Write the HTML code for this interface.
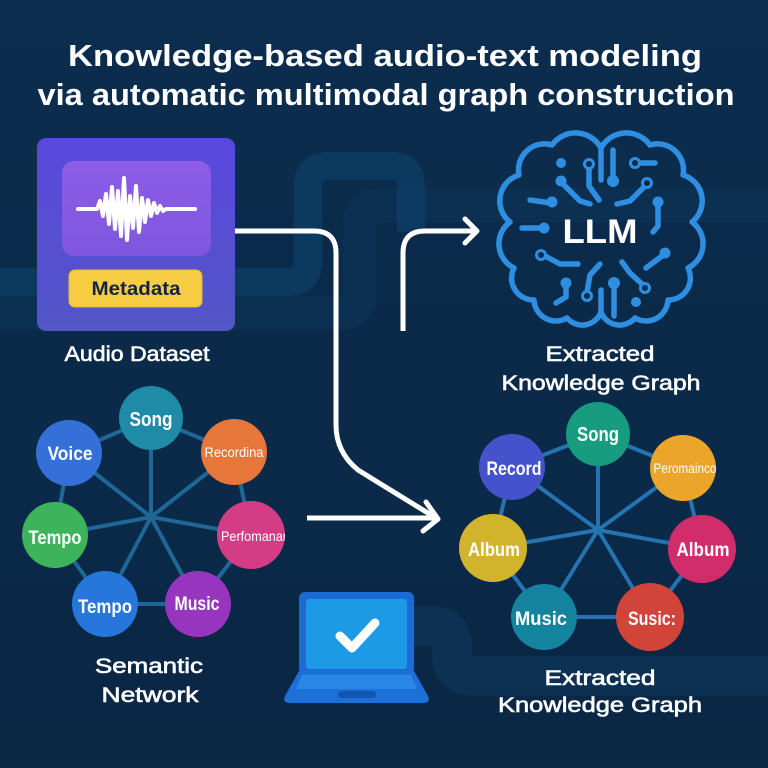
<!DOCTYPE html>
<html>
<head>
<meta charset="utf-8">
<style>
html,body{margin:0;padding:0;background:#0b2a49;}
svg{display:block;}
text{font-family:"Liberation Sans","DejaVu Sans",sans-serif;}
</style>
</head>
<body>
<svg width="768" height="768" viewBox="0 0 768 768" xmlns="http://www.w3.org/2000/svg">
  <defs>
    <linearGradient id="bg" x1="0" y1="0" x2="0" y2="1">
      <stop offset="0" stop-color="#0c2d4f"/>
      <stop offset="1" stop-color="#0a2744"/>
    </linearGradient>
    <linearGradient id="box" x1="0" y1="0" x2="0" y2="1">
      <stop offset="0" stop-color="#5b47dd"/>
      <stop offset="1" stop-color="#5256c6"/>
    </linearGradient>
    <linearGradient id="panel" x1="0" y1="0" x2="0" y2="1">
      <stop offset="0" stop-color="#8d5ce8"/>
      <stop offset="1" stop-color="#8056de"/>
    </linearGradient>
    <clipPath id="cPerf"><circle cx="251" cy="535" r="34"/></clipPath>
    <clipPath id="cPero"><circle cx="683" cy="468" r="33"/></clipPath>
  </defs>

  <rect width="768" height="768" fill="url(#bg)"/>

  <!-- background bands -->
  <path d="M0,313 H338 Q360,313 360,291 V225 Q360,205 382,205 H768" fill="none" stroke="#0d3457" stroke-width="34" opacity="0.6"/>
  <path d="M0,282 H288 Q308,282 308,262 V186 Q308,166 328,166 H392 Q411,166 411,186 V232" fill="none" stroke="#0f4671" stroke-width="28" opacity="0.55"/>
  <path d="M414,626 H433 Q452,626 452,646 V655 Q452,676 474,676 H768" fill="none" stroke="#0e3a5f" stroke-width="40" opacity="0.5"/>

  <!-- title -->
  <text x="385" y="66" font-size="31" font-weight="bold" fill="#ffffff" text-anchor="middle" textLength="634" lengthAdjust="spacingAndGlyphs">Knowledge-based audio-text modeling</text>
  <text x="386" y="105" font-size="31" font-weight="bold" fill="#ffffff" text-anchor="middle" textLength="697" lengthAdjust="spacingAndGlyphs">via automatic multimodal graph construction</text>

  <!-- audio dataset box -->
  <rect x="37" y="138" width="198" height="193" rx="9" fill="url(#box)"/>
  <rect x="62" y="161" width="149" height="95" rx="12" fill="url(#panel)"/>
  <polyline points="78,209 97,209 100,201 103,216 106,194 109,224 112,187 115,229 118,191 121,236 124,178 127,240 130,196 133,228 136,186 139,232 142,198 145,222 148,200 151,216 154,203 157,213 160,206 163,211 166,209 195,209" fill="none" stroke="#ffffff" stroke-width="4" stroke-linejoin="round" stroke-linecap="round"/>
  <rect x="69" y="270" width="133" height="37" rx="6" fill="#f6cd43" stroke="#e5b934" stroke-width="1"/>
  <text x="136" y="295" font-size="19" font-weight="bold" fill="#12234a" text-anchor="middle" textLength="89" lengthAdjust="spacingAndGlyphs">Metadata</text>
  <text x="137" y="361" font-size="21" fill="#ffffff" stroke="#ffffff" stroke-width="0.6" text-anchor="middle" textLength="145" lengthAdjust="spacingAndGlyphs">Audio Dataset</text>

  <!-- connectors -->
  <g fill="none" stroke="#ffffff" stroke-width="5">
    <path d="M235,231 H314 Q336,231 336,253 V425 Q336,452 358,470 L436,518"/>
    <path d="M307,518 H436"/>
    <path d="M403,331 V253 Q403,231 425,231 H474"/>
  </g>
  <g fill="none" stroke="#ffffff" stroke-width="5" stroke-linecap="round" stroke-linejoin="round">
    <polyline points="426,502 438,519 423,531"/>
    <polyline points="465,219 477,231 465,243"/>
  </g>

  <!-- brain -->
  <g fill="none" stroke="#2e8fe2" stroke-width="5.5" stroke-linejoin="round" stroke-linecap="round">
    <path d="M601,148 A29,29 0 0 1 650,145 A26,26 0 0 1 683,175 A27,27 0 0 1 692,222 A27,27 0 0 1 688,268 A22,22 0 0 1 668,300 A22,22 0 0 1 635,318 A20,20 0 0 1 601,312 A20,20 0 0 1 567,318 A22,22 0 0 1 534,300 A22,22 0 0 1 514,268 A27,27 0 0 1 510,222 A27,27 0 0 1 519,175 A26,26 0 0 1 552,145 A29,29 0 0 1 601,148 Z"/>
    <path d="M601,150 V180"/>
    <path d="M601,312 V290"/>
    <path d="M589,168 V186 L599,200"/>
    <path d="M613,150 V176"/>
    <path d="M639,163 H655"/>
    <path d="M563,184 L580,201 L590,204"/>
    <path d="M645,186 L630,201 L617,204"/>
    <path d="M530,200 L551,203"/>
    <path d="M658,207 V226 L653,232"/>
    <path d="M522,228 H543"/>
    <path d="M545,256 L560,264 H578"/>
    <path d="M662,256 L646,268"/>
    <path d="M566,287 V297 L556,303"/>
    <path d="M587,292 L590,275 L600,264"/>
    <path d="M614,287 V316"/>
    <path d="M642,284 L630,273 L622,262"/>
  </g>
  <g fill="#2e8fe2">
    <circle cx="561" cy="163" r="5"/>
    <circle cx="613" cy="181" r="6"/>
    <circle cx="561" cy="181" r="5.5"/>
    <circle cx="552" cy="202" r="5.5"/>
    <circle cx="658" cy="202" r="5.5"/>
    <circle cx="544" cy="228" r="5.5"/>
    <circle cx="665" cy="253" r="5.5"/>
    <circle cx="566" cy="283" r="5.5"/>
    <circle cx="614" cy="283" r="6"/>
    <circle cx="636" cy="302" r="5"/>
  </g>
  <g fill="#0b2b4a" stroke="#2e8fe2" stroke-width="3">
    <circle cx="589" cy="164" r="4.5"/>
    <circle cx="635" cy="163" r="4.5"/>
    <circle cx="647" cy="183" r="4.5"/>
    <circle cx="541" cy="255" r="4.5"/>
    <circle cx="587" cy="296" r="4.5"/>
    <circle cx="645" cy="288" r="4.5"/>
  </g>
  <text x="600" y="243" font-size="34" font-weight="bold" fill="#ffffff" text-anchor="middle" textLength="75" lengthAdjust="spacingAndGlyphs">LLM</text>

  <text x="600" y="361" font-size="21" fill="#ffffff" stroke="#ffffff" stroke-width="0.6" text-anchor="middle" textLength="109" lengthAdjust="spacingAndGlyphs">Extracted</text>
  <text x="601" y="390" font-size="21" fill="#ffffff" stroke="#ffffff" stroke-width="0.6" text-anchor="middle" textLength="199" lengthAdjust="spacingAndGlyphs">Knowledge Graph</text>

  <!-- left semantic network -->
  <g stroke="#1e6797" stroke-width="4" fill="none">
    <line x1="151" y1="517" x2="151" y2="418"/>
    <line x1="151" y1="517" x2="69" y2="453"/>
    <line x1="151" y1="517" x2="234" y2="452"/>
    <line x1="151" y1="517" x2="55" y2="535"/>
    <line x1="151" y1="517" x2="251" y2="535"/>
    <line x1="151" y1="517" x2="105" y2="604"/>
    <line x1="151" y1="517" x2="198" y2="604"/>
    <line x1="151" y1="418" x2="69" y2="453"/>
    <line x1="151" y1="418" x2="234" y2="452"/>
    <line x1="69" y1="453" x2="55" y2="535"/>
    <line x1="234" y1="452" x2="251" y2="535"/>
    <line x1="55" y1="535" x2="105" y2="604"/>
    <line x1="251" y1="535" x2="198" y2="604"/>
    <line x1="105" y1="604" x2="198" y2="604"/>
  </g>
  <circle cx="151" cy="418" r="32" fill="#1f8ba7"/>
  <circle cx="69" cy="453" r="33" fill="#3470d7"/>
  <circle cx="234" cy="452" r="33" fill="#e6763a"/>
  <circle cx="55" cy="535" r="33" fill="#3db45c"/>
  <circle cx="251" cy="535" r="34" fill="#d43c86"/>
  <circle cx="105" cy="604" r="33" fill="#2676dc"/>
  <circle cx="198" cy="604" r="33" fill="#9835bf"/>
  <g fill="#ffffff" font-weight="bold" text-anchor="middle">
    <text x="151" y="426" font-size="20" textLength="43" lengthAdjust="spacingAndGlyphs">Song</text>
    <text x="70" y="460" font-size="19" textLength="45" lengthAdjust="spacingAndGlyphs">Voice</text>
    <text x="55" y="544" font-size="19" textLength="53" lengthAdjust="spacingAndGlyphs">Tempo</text>
    <text x="105" y="613" font-size="19" textLength="54" lengthAdjust="spacingAndGlyphs">Tempo</text>
    <text x="197" y="610" font-size="19" textLength="45" lengthAdjust="spacingAndGlyphs">Music</text>
  </g>
  <g fill="#ffffff" text-anchor="middle">
    <text x="234" y="457" font-size="14" textLength="59" lengthAdjust="spacingAndGlyphs">Recordina</text>
    <text x="254" y="541" font-size="14" textLength="66" lengthAdjust="spacingAndGlyphs" clip-path="url(#cPerf)">Perfomanar</text>
  </g>
  <text x="149" y="673" font-size="21" fill="#ffffff" stroke="#ffffff" stroke-width="0.6" text-anchor="middle" textLength="108" lengthAdjust="spacingAndGlyphs">Semantic</text>
  <text x="150" y="702" font-size="21" fill="#ffffff" stroke="#ffffff" stroke-width="0.6" text-anchor="middle" textLength="97" lengthAdjust="spacingAndGlyphs">Network</text>

  <!-- laptop -->
  <rect x="299" y="592" width="115" height="82" rx="6" fill="#1a6bd4"/>
  <rect x="306" y="599" width="101" height="70" rx="3" fill="#1c9ae5"/>
  <path d="M299,671 H414 L428,696 Q431,703 423,703 H290 Q282,703 285,696 Z" fill="#1d70d8"/>
  <path d="M302,675 H411 L417,689 H296 Z" fill="#2a87e7"/>
  <rect x="338" y="691" width="38" height="7" rx="3.5" fill="#1256b4"/>
  <polyline points="340,636 352,648 375,623" fill="none" stroke="#ffffff" stroke-width="9" stroke-linecap="round" stroke-linejoin="round"/>

  <!-- right knowledge graph -->
  <g stroke="#2374b0" stroke-width="4" fill="none">
    <line x1="598" y1="530" x2="598" y2="434"/>
    <line x1="598" y1="530" x2="512" y2="467"/>
    <line x1="598" y1="530" x2="683" y2="468"/>
    <line x1="598" y1="530" x2="493" y2="548"/>
    <line x1="598" y1="530" x2="702" y2="549"/>
    <line x1="598" y1="530" x2="544" y2="617"/>
    <line x1="598" y1="530" x2="650" y2="617"/>
    <line x1="598" y1="434" x2="512" y2="467"/>
    <line x1="598" y1="434" x2="683" y2="468"/>
    <line x1="512" y1="467" x2="493" y2="548"/>
    <line x1="683" y1="468" x2="702" y2="549"/>
    <line x1="493" y1="548" x2="544" y2="617"/>
    <line x1="702" y1="549" x2="650" y2="617"/>
    <line x1="544" y1="617" x2="650" y2="617"/>
  </g>
  <circle cx="598" cy="434" r="32" fill="#189c7f"/>
  <circle cx="512" cy="467" r="33" fill="#4453cb"/>
  <circle cx="683" cy="468" r="33" fill="#eba52a"/>
  <circle cx="493" cy="548" r="34" fill="#d2b42c"/>
  <circle cx="702" cy="549" r="34" fill="#d22d6b"/>
  <circle cx="544" cy="617" r="33" fill="#13839e"/>
  <circle cx="650" cy="617" r="34" fill="#d0443a"/>
  <g fill="#ffffff" font-weight="bold" text-anchor="middle">
    <text x="598" y="441" font-size="20" textLength="42" lengthAdjust="spacingAndGlyphs">Song</text>
    <text x="514" y="475" font-size="19" textLength="55" lengthAdjust="spacingAndGlyphs">Record</text>
    <text x="494" y="556" font-size="19" textLength="52" lengthAdjust="spacingAndGlyphs">Album</text>
    <text x="703" y="556" font-size="19" textLength="53" lengthAdjust="spacingAndGlyphs">Album</text>
    <text x="541" y="625" font-size="19" textLength="52" lengthAdjust="spacingAndGlyphs">Music</text>
    <text x="652" y="625" font-size="19" textLength="48" lengthAdjust="spacingAndGlyphs">Susic:</text>
  </g>
  <text x="685" y="473" font-size="13.5" fill="#ffffff" text-anchor="middle" textLength="63" lengthAdjust="spacingAndGlyphs" clip-path="url(#cPero)">Peromainco</text>

  <text x="600" y="685" font-size="21" fill="#ffffff" stroke="#ffffff" stroke-width="0.6" text-anchor="middle" textLength="111" lengthAdjust="spacingAndGlyphs">Extracted</text>
  <text x="600" y="712" font-size="21" fill="#ffffff" stroke="#ffffff" stroke-width="0.6" text-anchor="middle" textLength="204" lengthAdjust="spacingAndGlyphs">Knowledge Graph</text>
</svg>
</body>
</html>
